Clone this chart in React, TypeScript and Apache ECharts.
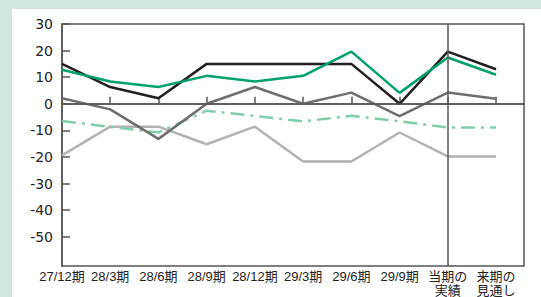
import React, { useEffect, useRef } from "react";
import * as echarts from "echarts";

const categories = [
  "27/12期",
  "28/3期",
  "28/6期",
  "28/9期",
  "28/12期",
  "29/3期",
  "29/6期",
  "29/9期",
  "当期の\n実績",
  "来期の\n見通し",
];
const yTicks = [-50, -40, -30, -20, -10, 0, 10, 20, 30];

const blackValues = [15, 6.3, 2.1, 15, 15, 15, 15, 0, 19.6, 13];
const greenValues = [12.8, 8.4, 6.3, 10.5, 8.4, 10.5, 19.6, 4.1, 17.4, 10.9];
const darkGrayValues = [2.1, -2.1, -13.2, 0, 6.3, 0, 4.2, -4.6, 4.2, 1.9];
const lightGrayValues = [-19.4, -8.6, -8.6, -15.2, -8.6, -21.7, -21.7, -10.8, -19.8, -19.8];
const dashValues = [-6.5, -8.7, -10.8, -2.6, -4.6, -6.6, -4.5, -6.6, -8.9, -8.9];

const dividerAt = 8;

const toPairs = (vals: number[]) => vals.map((v, i) => [i, v]);

export default function App() {
  const ref = useRef<HTMLDivElement>(null);
  useEffect(() => {
    if (!ref.current) return;
    const chart = echarts.init(ref.current, undefined, { renderer: "svg" });
    const axisColor = "#555555";
    const lineSeries = (
      name: string,
      vals: number[],
      color: string,
      width: number,
      type: any = "solid",
      extra: any = {}
    ) => ({
      name,
      type: "line",
      data: toPairs(vals),
      showSymbol: false,
      symbol: "none",
      lineStyle: { color, width, type },
      z: 3,
      ...extra,
    });
    chart.setOption({
      animation: false,
      backgroundColor: "transparent",
      grid: {
        left: 62,
        right: 17,
        top: 24,
        bottom: 31,
        outerBoundsMode: "none",
        containLabel: false,
        show: true,
        borderColor: axisColor,
        borderWidth: 1.5,
        backgroundColor: "transparent",
      },
      xAxis: {
        type: "value",
        min: 0,
        max: 9.58,
        interval: 1,
        axisLine: { show: true, lineStyle: { color: axisColor, width: 1.5 } },
        axisTick: {
          show: true,
          inside: true,
          length: 7,
          customValues: categories.map((_, i) => i),
          lineStyle: { color: axisColor, width: 1.5 },
        },
        splitLine: { show: false },
        axisLabel: {
          customValues: categories.map((_, i) => i),
          formatter: (v: number) =>
            Number.isInteger(v) && categories[v] !== undefined ? categories[v] : "",
          color: "#222",
          fontSize: 13,
          lineHeight: 14,
          fontFamily: "'Liberation Sans', 'Noto Sans CJK JP', sans-serif",
          margin: 3,
          hideOverlap: false,
        },
      },
      yAxis: {
        type: "value",
        min: -61,
        max: 30,
        axisLine: { show: true, lineStyle: { color: axisColor, width: 1.5 } },
        axisTick: {
          show: true,
          inside: true,
          length: 8,
          customValues: yTicks,
          lineStyle: { color: axisColor, width: 1.5 },
        },
        splitLine: { show: false },
        axisLabel: {
          customValues: yTicks,
          color: "#222",
          fontSize: 14,
          fontFamily: "'DejaVu Sans', sans-serif",
          margin: 9,
        },
      },
      series: [
        lineSeries("light", lightGrayValues, "#b2b2b2", 2.5),
        lineSeries("dash", dashValues, "#7fcfab", 2.5, [14, 6, 3, 6]),
        lineSeries("darkgray", darkGrayValues, "#6e6e6e", 2.5, "solid", {
          markLine: {
            silent: true,
            symbol: "none",
            label: { show: false },
            lineStyle: { color: axisColor, width: 1.5, type: "solid" },
            data: [{ yAxis: 0 }, { xAxis: dividerAt }],
          },
        }),
        lineSeries("black", blackValues, "#231f20", 2.5),
        lineSeries("green", greenValues, "#00a06b", 2.5),
      ],
    });
    return () => chart.dispose();
  }, []);
  return (
    <div
      style={{
        position: "fixed",
        left: 0,
        top: 0,
        width: 541,
        height: 297,
        background: "#cfe6da",
      }}
    >
      <div
        style={{
          position: "absolute",
          left: 12,
          top: 9,
          width: 529,
          height: 288,
          background: "#ffffff",
        }}
      />
      <div
        ref={ref}
        style={{ position: "absolute", left: 0, top: 0, width: 541, height: 297 }}
      />
    </div>
  );
}
